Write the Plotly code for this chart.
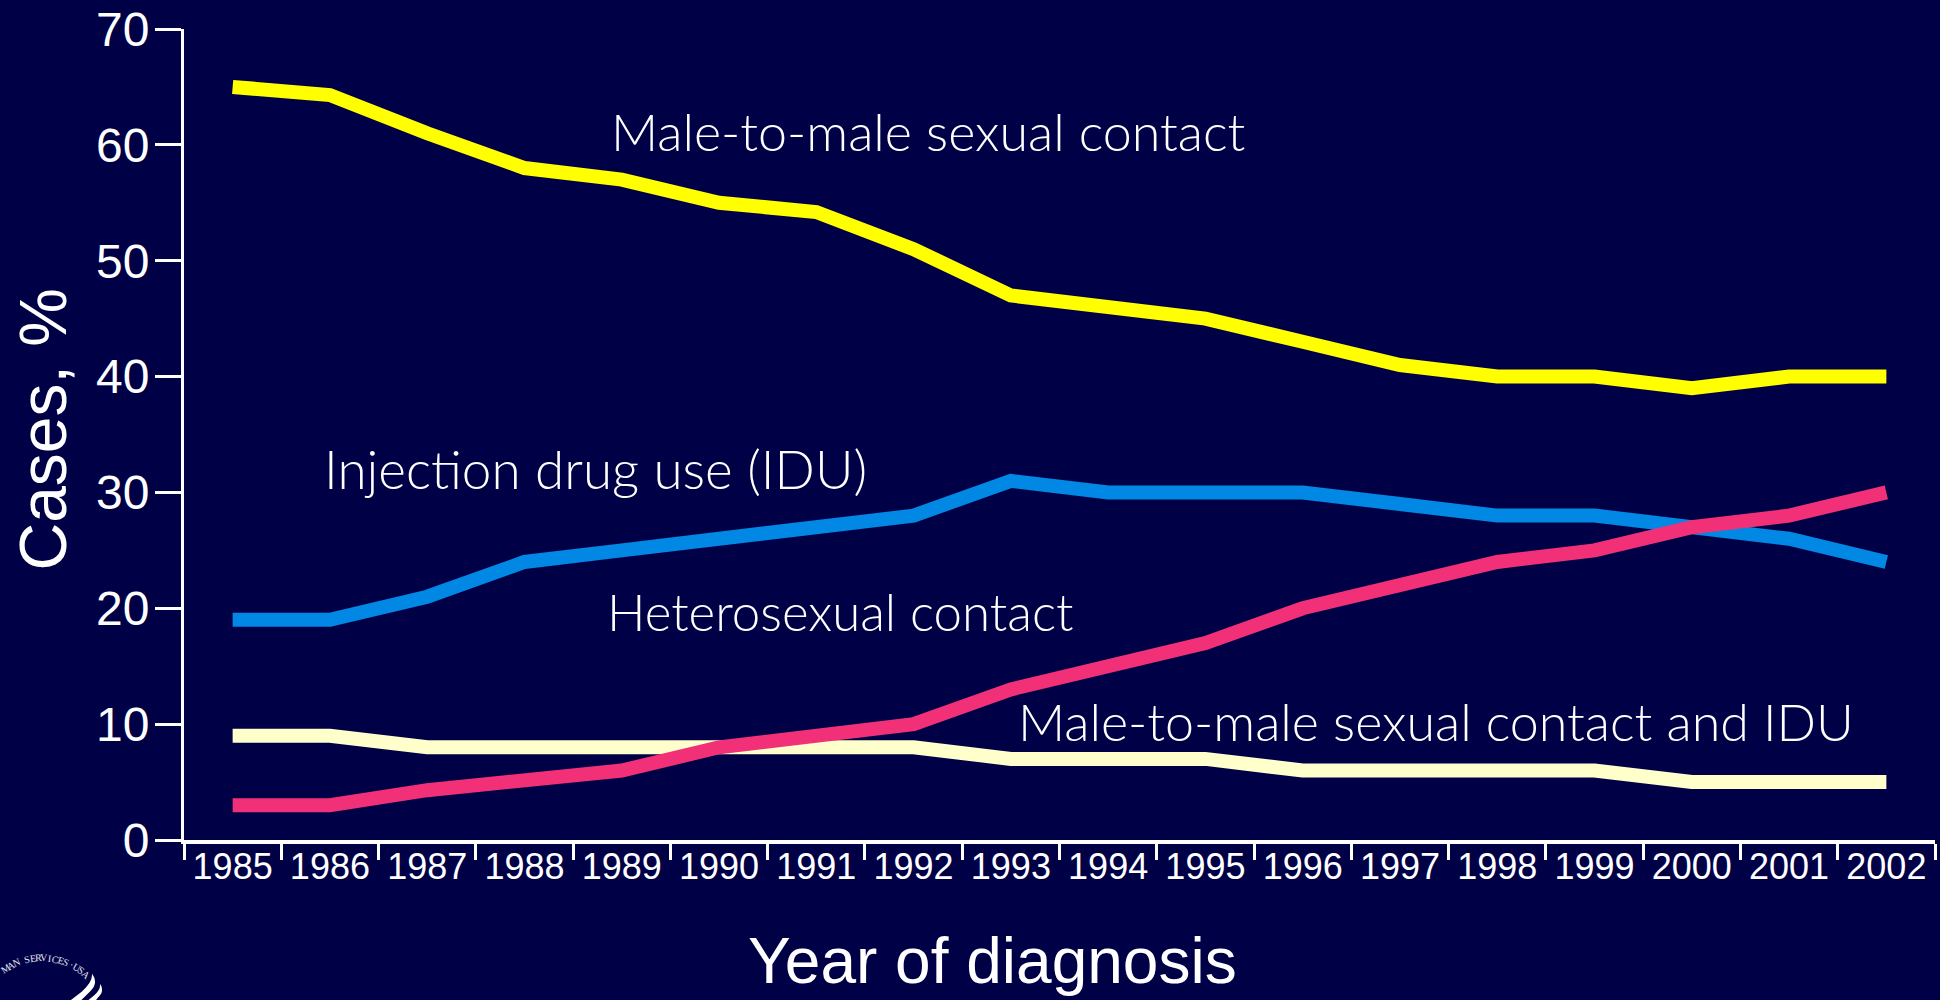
import math
import plotly.graph_objects as go

years = [str(y) for y in range(1985, 2003)]
male_to_male = [65, 64.3, 61, 58, 57, 55, 54.2, 51, 47, 46, 45, 43, 41, 40, 40, 39, 40, 40]
idu = [19, 19, 21, 24, 25, 26, 27, 28, 31, 30, 30, 30, 29, 28, 28, 27, 26, 24]
msm_idu = [9, 9, 8, 8, 8, 8, 8, 8, 7, 7, 7, 6, 6, 6, 6, 5, 5, 5]
hetero = [3, 3, 4.3, 5, 6, 8, 9, 10, 13, 15, 17, 20, 22, 24, 25, 27, 28, 30]
y_ticks = list(range(0, 71, 10))

BG = "#000046"
WHITE = "#ffffff"
W, H = 1940, 1000
L, R, T, B = 184, 1935, 26, 840
LIFT = 2  # the figure is 2px taller and lifted by 2px, so the "70" label keeps its room


def px(x):
    return (x - L) / (R - L)


def py(y):
    return (B - y) / (B - T)


fig = go.Figure()
for name, vals, col in [
    ("Male-to-male sexual contact", male_to_male, "#ffff00"),
    ("Injection drug use (IDU)", idu, "#0088e4"),
    ("Male-to-male sexual contact and IDU", msm_idu, "#ffffcc"),
    ("Heterosexual contact", hetero, "#f23078"),
]:
    fig.add_trace(go.Scatter(x=years, y=vals, mode="lines", name=name,
                             line=dict(color=col, width=14), showlegend=False))

labels = [
    ("Male-to-male sexual contact", 609, 128, 52),
    ("Injection drug use (IDU)", 322, 467, 53),
    ("Heterosexual contact", 605, 611, 51),
    ("Male-to-male sexual contact and IDU", 1016, 721, 52),
]
anns = [dict(text=t, x=px(x), y=py(y), xref="paper", yref="paper", xanchor="left", yanchor="middle",
             showarrow=False, font=dict(family="Lato", size=s, weight=300, color=WHITE)) for t, x, y, s in labels]

# Agency seal at the lower-left edge: arc of small letters and two curved bands
seal_text = "MAN SERVICES·USA"
cx, cy, rad = 41.7, 1023, 65
for i, ch in enumerate(seal_text):
    ang = -33.4 + i * 5.06
    a = math.radians(ang)
    anns.append(dict(text=ch, x=px(cx + rad * math.sin(a)), y=py(cy - rad * math.cos(a)),
                     xref="paper", yref="paper", xanchor="center", yanchor="middle",
                     showarrow=False, textangle=ang,
                     font=dict(family="Liberation Serif", size=10, color="#e6e6f0")))

bands = [
    [(92, 974), (99, 984), (90, 992), (76, 1006), (64, 1006), (82, 992), (93, 982)],
    [(100, 984), (105, 992), (98, 998), (92, 1006), (82, 1006), (94, 996), (101, 990)],
]
shapes = []
for b in bands:
    p = [f"{px(x):.5f},{py(y):.5f}" for x, y in b]
    shapes.append(dict(type="path", xref="paper", yref="paper", line=dict(width=0), fillcolor=WHITE,
                       path=f"M{p[0]} Q{p[1]} {p[2]} L{p[3]} L{p[4]} L{p[5]} Q{p[6]} {p[0]} Z"))

fig.update_layout(
    width=W, height=H + LIFT, autosize=False,
    paper_bgcolor=BG, plot_bgcolor=BG,
    margin=dict(l=L, r=W - R, t=T + LIFT, b=H - B),
    shapes=shapes,
    xaxis=dict(type="category", tickmode="array", tickvals=years, ticktext=years,
               tickson="boundaries", range=[-0.5, 17.5], ticks="outside", ticklen=16, tickwidth=3,
               tickcolor=WHITE, showline=True, linecolor=WHITE, linewidth=4, showgrid=False, zeroline=False,
               tickangle=0, tickfont=dict(family="Liberation Sans", size=36, color=WHITE)),
    yaxis=dict(range=[0, 70], tickvals=y_ticks, ticks="outside", ticklen=26, tickwidth=3,
               tickcolor=WHITE, showline=True, linecolor=WHITE, linewidth=3, showgrid=False, zeroline=False,
               tickfont=dict(family="Liberation Sans", size=48, color=WHITE)),
    font=dict(family="Liberation Sans", color=WHITE),
    annotations=anns + [
        dict(text="Cases, %", x=px(43), y=py(428), xref="paper", yref="paper", textangle=-90,
             xanchor="center", yanchor="middle",
             showarrow=False, font=dict(family="Liberation Sans", size=66, color=WHITE)),
        dict(text="Year of diagnosis", x=px(992), y=py(961), xref="paper", yref="paper",
             xanchor="center", yanchor="middle",
             showarrow=False, font=dict(family="Liberation Sans", size=64, color=WHITE)),
    ],
)
post = """
document.body.style.margin='0';
document.body.style.marginTop='-%dpx';
document.documentElement.style.overflow='hidden';
document.documentElement.style.background='#000046';
document.querySelectorAll('.xtick text').forEach(function(t){
  var tr=t.getAttribute('transform')||'';
  t.setAttribute('transform', tr+' translate(0,-8)');
});
document.querySelectorAll('.ytick text').forEach(function(t){
  var tr=t.getAttribute('transform')||'';
  t.setAttribute('transform', tr+' translate(4,0)');
});
""" % LIFT
fig.write_html("out.html", post_script=post, config={"displayModeBar": False})
